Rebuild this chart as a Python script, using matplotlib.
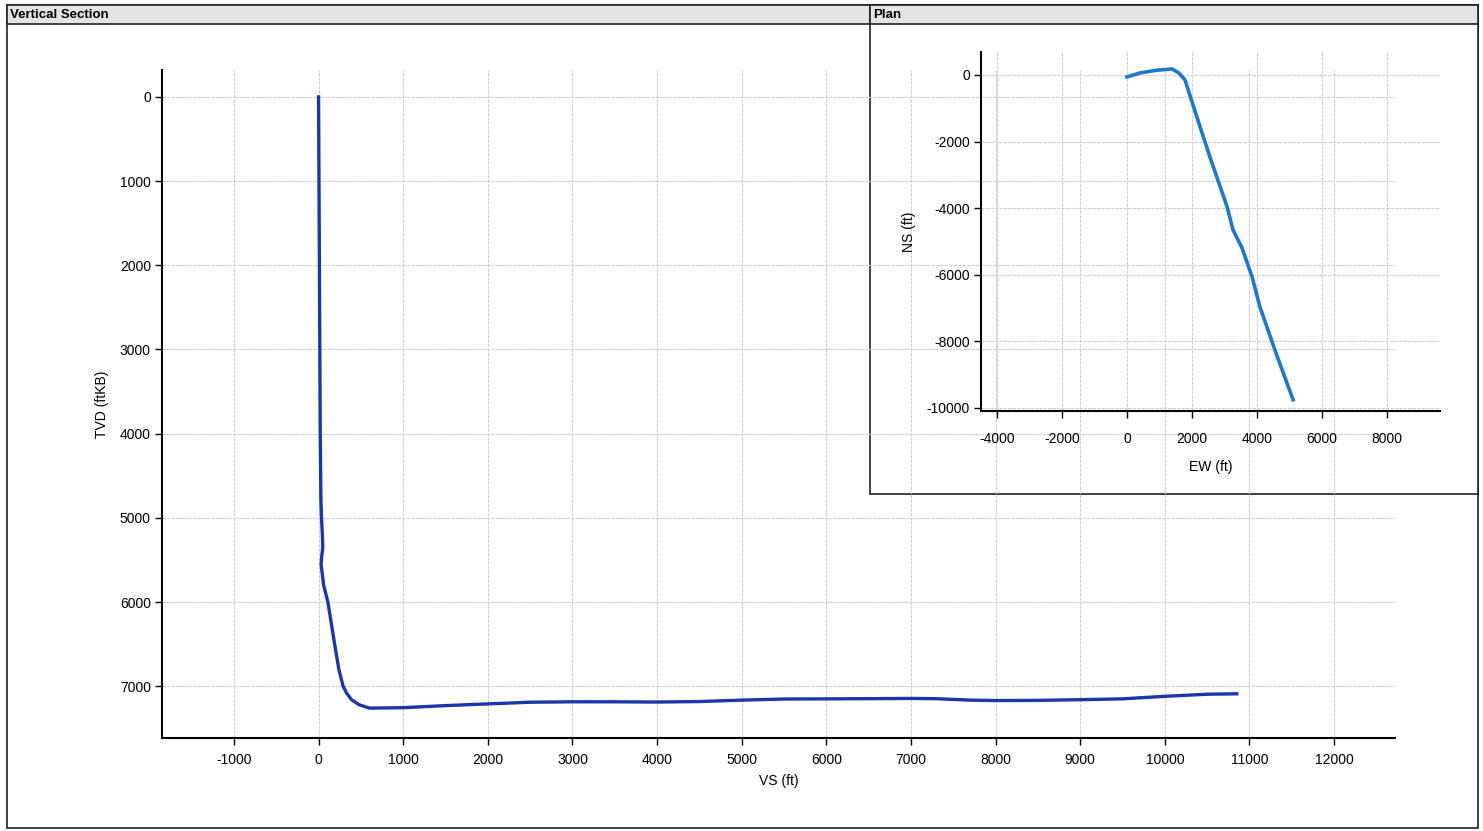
import matplotlib
matplotlib.use('Agg')
import matplotlib.pyplot as plt
from matplotlib.patches import Rectangle

plt.rcParams['font.family'] = ['Liberation Sans', 'DejaVu Sans']
plt.rcParams['axes.unicode_minus'] = False

# Vertical section trajectory (VS ft, TVD ftKB)
vs  = [0, 5, 10, 15, 20, 28, 35, 45, 50, 38, 30, 60, 110, 150, 190, 240, 290,
       330, 390, 480, 600, 1000, 1500, 2000, 2500, 3000, 3500, 4000, 4500,
       5000, 5500, 6000, 6500, 7000, 7300, 7700, 8000, 8500, 9000, 9500,
       10000, 10500, 10850]
tvd = [0, 1000, 2000, 3000, 4000, 4800, 5000, 5200, 5350, 5450, 5550, 5800,
       6000, 6250, 6500, 6800, 7000, 7080, 7160, 7220, 7260, 7255, 7230,
       7210, 7190, 7185, 7185, 7188, 7182, 7165, 7152, 7150, 7148, 7145,
       7148, 7165, 7170, 7168, 7160, 7150, 7120, 7095, 7090]

# Plan view (EW ft, NS ft)
ew = [0, 400, 900, 1385, 1600, 1785, 1950, 2150, 2550, 3080, 3260, 3540,
      3850, 4090, 4600, 5110]
ns = [-60, 60, 140, 180, 60, -150, -650, -1260, -2460, -3960, -4650, -5200,
      -6070, -6970, -8400, -9760]

vs_ticks = list(range(-1000, 12001, 1000))
tvd_ticks = list(range(0, 7001, 1000))
ew_ticks = list(range(-4000, 8001, 2000))
ns_ticks = list(range(-10000, 1, 2000))

fig = plt.figure(figsize=(14.83, 8.31), dpi=100)
W, H = 1483.0, 831.0

def box(x0, y0, x1, y1, title):
    # panel frame in pixel coords (top-left origin)
    fig.add_artist(Rectangle((x0 / W, 1 - y1 / H), (x1 - x0) / W, (y1 - y0) / H,
                             transform=fig.transFigure, facecolor='white',
                             edgecolor='#222222', lw=1.2, zorder=0))
    fig.add_artist(Rectangle((x0 / W, 1 - 24 / H), (x1 - x0) / W, (24 - y0) / H,
                             transform=fig.transFigure, facecolor='#e4e4e4',
                             edgecolor='#222222', lw=1.2, zorder=0))
    fig.text((x0 + 3) / W, 1 - 14.5 / H, title, fontsize=9.5, fontweight='bold',
             va='center', ha='left')

box(7, 5, 1478, 828, 'Vertical Section')

grid_kw = dict(color='#cfcfcf', lw=0.8, ls=(0, (3, 1)))

def style(ax, ypad, xpad):
    for s in ['top', 'right']:
        ax.spines[s].set_visible(False)
    for s in ['left', 'bottom']:
        ax.spines[s].set_linewidth(1.5)
    ax.tick_params(labelsize=10, length=5, width=1, direction='out')
    ax.tick_params(axis='y', pad=ypad)
    ax.tick_params(axis='x', pad=xpad)
    ax.grid(True, **grid_kw)
    ax.set_axisbelow(True)

# main vertical section
ax = fig.add_axes([162 / W, 1 - 738 / H, (1395 - 162) / W, (738 - 70) / H])
ax.plot(vs, tvd, color='#1b36aa', lw=2.4)
ax.set_xlim(-1850, 12720)
ax.set_ylim(7615, -320)
ax.set_xticks(vs_ticks)
ax.set_yticks(tvd_ticks)
ax.set_xlabel('VS (ft)', fontsize=10, labelpad=5)
ax.set_ylabel('TVD (ftKB)', fontsize=10, labelpad=8)
style(ax, 3, 6)
ax.patch.set_alpha(0)

# plan inset
box(870, 5, 1478, 494, 'Plan')
ax2 = fig.add_axes([981 / W, 1 - 411 / H, (1440 - 981) / W, (411 - 52) / H])
ax2.plot(ew, ns, color='#1e78cc', lw=2.6)
ax2.set_xlim(-4490, 9630)
ax2.set_ylim(-10100, 690)
ax2.set_xticks(ew_ticks)
ax2.set_yticks(ns_ticks)
ax2.set_xlabel('EW (ft)', fontsize=10, labelpad=10)
ax2.set_ylabel('NS (ft)', fontsize=10, labelpad=8)
style(ax2, 3, 10)
ax2.patch.set_alpha(0)

fig.savefig('out.png', dpi=100)
